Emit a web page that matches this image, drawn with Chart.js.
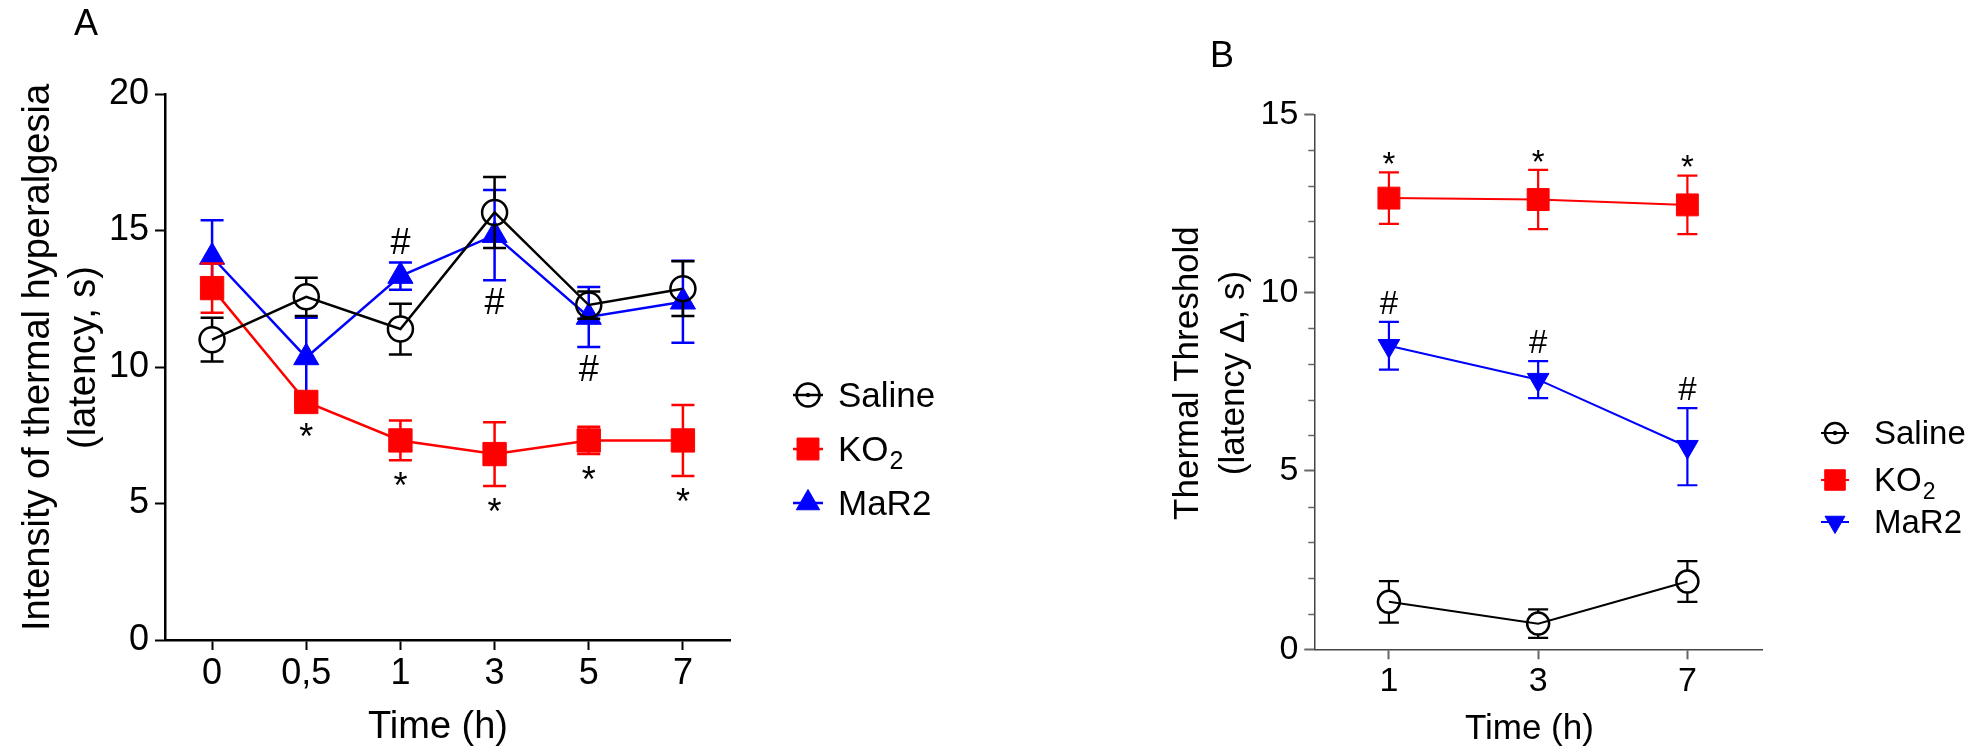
<!DOCTYPE html>
<html><head><meta charset="utf-8">
<script src="https://cdn.jsdelivr.net/npm/chart.js@4.4.1/dist/chart.umd.min.js"></script>
<style>
html,body{margin:0;padding:0;background:#fff;width:1983px;height:754px;overflow:hidden;}
canvas{position:absolute;top:0;}
#cA{left:0}
#cB{left:1150px}
</style></head><body>
<canvas id="cA" width="980" height="754"></canvas>
<canvas id="cB" width="833" height="754"></canvas>
<script>
// ---------- DATA ----------
const catsA = ['0', '0,5', '1', '3', '5', '7'];
const salineA = [11.0, 12.57, 11.39, 15.66, 12.27, 12.87];
const salineAErr = [0.8, 0.7, 0.93, 1.3, 0.5, 1.0];
const ko2A = [12.89, 8.72, 7.31, 6.81, 7.31, 7.31];
const ko2AErr = [0.9, 0.35, 0.73, 1.17, 0.5, 1.3];
const mar2A = [14.03, 10.35, 13.33, 14.83, 11.83, 12.39];
const mar2AErr = [1.35, 1.45, 0.5, 1.65, 1.1, 1.5];
const ko2ASig = ['', '*', '*', '*', '*', '*'];
const mar2ASig = ['', '', '#', '#', '#', ''];
const mar2ASigSide = ['', '', 'above', 'below', 'below', ''];
const yTicksA = [0, 5, 10, 15, 20];

const catsB = ['1', '3', '7'];
const salineB = [1.33, 0.72, 1.9];
const salineBErr = [0.58, 0.4, 0.57];
const ko2B = [12.65, 12.61, 12.46];
const ko2BErr = [0.72, 0.83, 0.82];
const mar2B = [8.51, 7.56, 5.68];
const mar2BErr = [0.67, 0.52, 1.08];
const ko2BSig = ['*', '*', '*'];
const mar2BSig = ['#', '#', '#'];
const yTicksB = [0, 5, 10, 15];

const seriesNames = ['Saline', 'KO', 'MaR2'];
const seriesSubs = ['', '2', ''];
const xTitle = 'Time (h)\u2002';
const yTitleA = ['\u2002Intensity of thermal hyperalgesia', '\u2002(latency, s)'];
const yTitleB = ['\u2002Thermal Threshold', '\u2002(latency \u0394, s)'];

// ---------- STYLE ----------
const FONT = "'Liberation Sans', Arial, sans-serif";
const BLACK = '#000000', RED = '#ff0000', BLUE = '#0000ff';

// ---------- PLUGINS ----------
const errorBars = {
  id: 'errorBars',
  beforeDatasetDraw(chart, args, o) {
    const ds = chart.data.datasets[args.index];
    if (!ds.errors) return;
    const ys = chart.scales.y, ctx = chart.ctx;
    ctx.save();
    ctx.strokeStyle = ds.borderColor;
    ctx.lineWidth = o.width;
    args.meta.data.forEach((pt, i) => {
      const v = ds.data[i], e = ds.errors[i];
      const x = pt.x, yc = ys.getPixelForValue(v);
      const yt = ys.getPixelForValue(v + e), yb = ys.getPixelForValue(v - e);
      const gap = ds.hollow ? ds.pointRadius : 0;
      ctx.beginPath();
      if (yc - gap > yt) { ctx.moveTo(x, yt); ctx.lineTo(x, yc - gap); }
      if (yc + gap < yb) { ctx.moveTo(x, yc + gap); ctx.lineTo(x, yb); }
      ctx.moveTo(x - o.cap, yt); ctx.lineTo(x + o.cap, yt);
      ctx.moveTo(x - o.cap, yb); ctx.lineTo(x + o.cap, yb);
      ctx.stroke();
    });
    ctx.restore();
  }
};

const sigMarks = {
  id: 'sigMarks',
  afterDatasetsDraw(chart, args, o) {
    const ctx = chart.ctx, ys = chart.scales.y;
    ctx.save();
    ctx.fillStyle = '#000';
    ctx.font = o.size + 'px ' + FONT;
    ctx.textAlign = 'center';
    ctx.textBaseline = 'alphabetic';
    chart.data.datasets.forEach((ds, di) => {
      if (!ds.sig) return;
      const meta = chart.getDatasetMeta(di);
      ds.sig.forEach((s, i) => {
        if (!s) return;
        const side = ds.sigSide ? ds.sigSide[i] : ds.sigDefault;
        const v = ds.data[i], e = ds.errors[i];
        const g = s === '*' ? o.gapStar : o.gapHash;
        const cy = side === 'above' ? ys.getPixelForValue(v + e) - g : ys.getPixelForValue(v - e) + g;
        const base = s === '*' ? cy + 0.6 * o.size : cy + 0.36 * o.size;
        ctx.fillText(s, meta.data[i].x, base);
      });
    });
    ctx.restore();
  }
};

const extras = {
  id: 'extras',
  afterDraw(chart, args, o) {
    const ctx = chart.ctx;
    ctx.save();
    // panel letter
    ctx.fillStyle = '#000';
    ctx.font = '36px ' + FONT;
    ctx.textAlign = 'center';
    ctx.textBaseline = 'alphabetic';
    ctx.fillText(o.letter, o.letterX, o.letterY);
    // minor ticks
    if (o.minor) {
      const ys = chart.scales.y, left = chart.chartArea.left;
      ctx.strokeStyle = o.minor.color; ctx.lineWidth = o.minor.width;
      ctx.beginPath();
      for (let v = ys.min; v <= ys.max; v += o.minor.step) {
        if (Math.abs(v % o.minor.major) < 1e-9) continue;
        const y = Math.round(ys.getPixelForValue(v)) + 0.5;
        ctx.moveTo(left - o.minor.len, y); ctx.lineTo(left, y);
      }
      ctx.stroke();
    }
    // legend
    const L = o.legend;
    chart.data.datasets.forEach((ds, i) => {
      const cx = L.x, cy = L.ys[i];
      ctx.strokeStyle = ds.borderColor;
      ctx.lineWidth = L.lineW;
      ctx.beginPath(); ctx.moveTo(cx - L.half, cy); ctx.lineTo(cx + L.half, cy); ctx.stroke();
      ctx.fillStyle = ds.pointBackgroundColor;
      ctx.lineWidth = ds.pointBorderWidth;
      ctx.strokeStyle = ds.borderColor;
      Chart.helpers.drawPoint(ctx, {
        pointStyle: ds.pointStyle, rotation: ds.pointRotation || 0,
        radius: ds.legendRadius, borderWidth: ds.pointBorderWidth
      }, cx, cy);
      if (ds.hollow) {
        ctx.fillStyle = ds.borderColor;
        ctx.beginPath(); ctx.arc(cx, cy, 2.2, 0, Math.PI * 2); ctx.fill();
      }
      ctx.fillStyle = '#000';
      ctx.font = L.size + 'px ' + FONT;
      ctx.textAlign = 'left';
      ctx.textBaseline = 'middle';
      ctx.fillText(seriesNames[i], L.textX, cy + 2);
      if (seriesSubs[i]) {
        const w = ctx.measureText(seriesNames[i]).width;
        ctx.font = Math.round(L.size * 0.7) + 'px ' + FONT;
        ctx.fillText(seriesSubs[i], L.textX + w + 1, cy + L.size * 0.38);
      }
    });
    ctx.restore();
  }
};

function buildDatasets(vals, errs, sigs, p) {
  return [
    { label: seriesNames[0], data: vals[0], errors: errs[0], borderColor: BLACK,
      pointBackgroundColor: 'rgba(0,0,0,0)', pointBorderColor: BLACK, hollow: true,
      pointStyle: 'circle', pointRadius: p.circleR, legendRadius: p.circleR - 1,
      pointBorderWidth: p.pbw, borderWidth: p.lw },
    { label: seriesNames[1], data: vals[1], errors: errs[1], borderColor: RED,
      pointBackgroundColor: RED, pointBorderColor: RED, sig: sigs[1], sigDefault: p.ko2Side,
      pointStyle: 'rect', pointRadius: p.rectR, legendRadius: p.rectR - 1,
      pointBorderWidth: 1, borderWidth: p.lw },
    { label: seriesNames[2], data: vals[2], errors: errs[2], borderColor: BLUE,
      pointBackgroundColor: BLUE, pointBorderColor: BLUE, sig: sigs[2], sigSide: sigs[3], sigDefault: 'above',
      pointStyle: 'triangle', pointRotation: p.triRot, pointRadius: p.triR, legendRadius: p.triR - 1,
      pointBorderWidth: 1, borderWidth: p.lw }
  ];
}

function buildOptions(p) {
  return {
    responsive: false, animation: false, devicePixelRatio: 1,
    layout: { padding: { left: 0, top: p.top, right: p.right, bottom: 0 } },
    elements: { line: { tension: 0, fill: false } },
    plugins: {
      legend: { display: false }, tooltip: { enabled: false },
      errorBars: { width: p.ebw, cap: p.cap },
      sigMarks: { size: p.sigSize, gapStar: p.gapStar, gapHash: p.gapHash },
      extras: p.extras
    },
    scales: {
      x: {
        type: 'category', offset: true,
        afterFit: s => { s.height = p.xH; },
        border: { display: true, color: p.axisColor, width: p.axisW },
        grid: { display: true, drawOnChartArea: false, offset: false, tickLength: 10, tickWidth: 2, tickColor: p.tickColor },
        ticks: { color: '#000', font: { family: FONT, size: p.tickSize }, padding: 2, maxRotation: 0 },
        title: { display: true, text: xTitle, color: '#000', font: { family: FONT, size: p.titleSize }, padding: { top: 0, bottom: 4 } }
      },
      y: {
        min: p.yTicks[0], max: p.yTicks[p.yTicks.length - 1],
        afterFit: s => { s.width = p.yW; },
        afterBuildTicks: s => { s.ticks = p.yTicks.map(v => ({ value: v })); },
        border: { display: true, color: p.axisColor, width: p.axisW },
        grid: { display: true, drawOnChartArea: false, tickLength: 10, tickWidth: 2, tickColor: p.tickColor },
        ticks: { color: '#000', font: { family: FONT, size: p.tickSize }, padding: 6 },
        title: { display: true, text: p.yTitle, color: '#000', font: { family: FONT, size: p.titleSize, lineHeight: p.titleLH }, padding: { top: p.yTitlePad, bottom: 0 } }
      }
    }
  };
}

// Panel A
new Chart(document.getElementById('cA'), {
  type: 'line',
  data: {
    labels: catsA,
    datasets: buildDatasets([salineA, ko2A, mar2A], [salineAErr, ko2AErr, mar2AErr],
      [null, ko2ASig, mar2ASig, mar2ASigSide],
      { circleR: 12.5, rectR: 16.5, triR: 14.5, triRot: 0, pbw: 2.5, lw: 2.5, ko2Side: 'below' })
  },
  options: buildOptions({
    top: 94, right: 250, xH: 114, yW: 165, axisColor: '#000', axisW: 2.5, tickColor: '#000',
    tickSize: 36, titleSize: 38, titleLH: 1.2, yTitle: yTitleA, yTitlePad: 16, yTicks: yTicksA,
    ebw: 2.5, cap: 11.5, sigSize: 36, gapStar: 16, gapHash: 21,
    extras: { letter: 'A', letterX: 86, letterY: 35,
      legend: { x: 808, ys: [395, 449, 503], half: 15, lineW: 2.5, textX: 838, size: 35 } }
  }),
  plugins: [errorBars, sigMarks, extras]
});

// Panel B
new Chart(document.getElementById('cB'), {
  type: 'line',
  data: {
    labels: catsB,
    datasets: buildDatasets([salineB, ko2B, mar2B], [salineBErr, ko2BErr, mar2BErr],
      [null, ko2BSig, mar2BSig, null],
      { circleR: 11, rectR: 15.5, triR: 12.5, triRot: 180, pbw: 2.5, lw: 2, ko2Side: 'above' })
  },
  options: buildOptions({
    top: 114.3, right: 221, xH: 104.7, yW: 164.3, axisColor: '#444', axisW: 1.5, tickColor: '#666',
    tickSize: 34, titleSize: 35, titleLH: 1.3, yTitle: yTitleB, yTitlePad: 16, yTicks: yTicksB,
    ebw: 2.2, cap: 10, sigSize: 33, gapStar: 17, gapHash: 20,
    extras: { letter: 'B', letterX: 72, letterY: 67,
      minor: { step: 1, major: 5, len: 6, color: '#666', width: 1.5 },
      legend: { x: 685, ys: [433, 480, 522], half: 14, lineW: 2, textX: 724, size: 33 } }
  }),
  plugins: [errorBars, sigMarks, extras]
});
</script>
</body></html>
